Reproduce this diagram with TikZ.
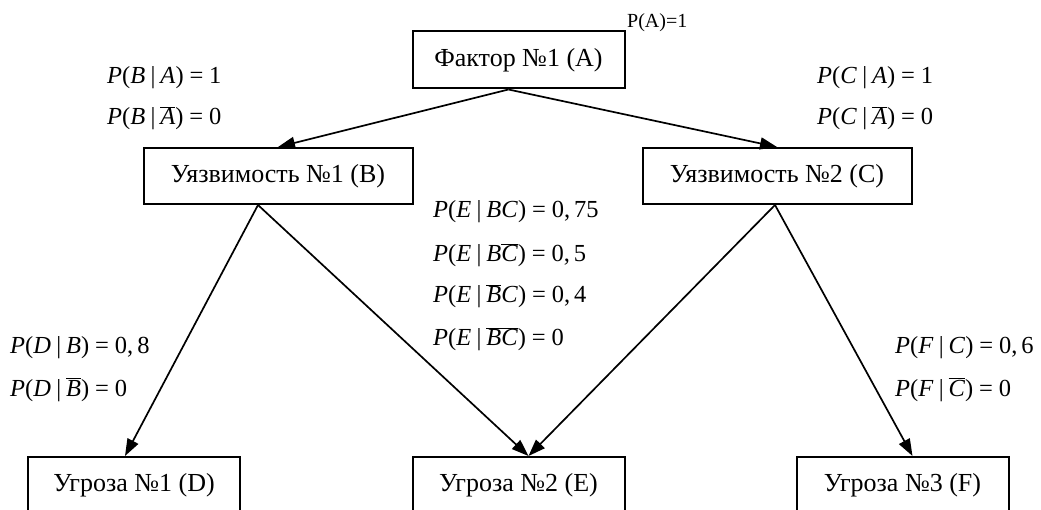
\documentclass[tikz,border=0pt]{standalone}
\usepackage{fontspec}
\setmainfont{Liberation Serif}
\usetikzlibrary{arrows.meta}
\newcommand{\iv}[1]{\textit{#1}}
\newcommand{\ob}[1]{$\overline{\hbox{\itshape #1}}$}
\newcommand{\cbar}{\hspace{0.22em}|\hspace{0.2em}}
\newcommand{\eqs}{\hspace{0.24em}=\hspace{0.24em}}
\begin{document}
\begin{tikzpicture}[x=1pt,y=-1pt,
  box/.style={draw, line width=2pt, minimum width=212pt, minimum height=57pt,
    inner sep=0pt, font=\fontsize{26}{30}\selectfont},
  widebox/.style={box, minimum width=269pt, minimum height=56pt},
  prob/.style={anchor=base west, inner sep=0pt, font=\fontsize{24.5}{28}\selectfont},
  link/.style={line width=1.7pt, -{Triangle[length=17pt,width=12pt]}}]
\useasboundingbox (0,0) rectangle (1041,510);
\clip (0,0) rectangle (1041,510);
\fill[white] (0,0) rectangle (1041,510);

% nodes of the tree
\node[box] (A) at (518.5,60) {Фактор №1 (А)};
\node[widebox] (B) at (278,176) {Уязвимость №1 (В)};
\node[widebox] (C) at (777,176) {Уязвимость №2 (С)};
\node[box, minimum height=56pt] (D) at (134,485) {Угроза №1 (D)};
\node[box, minimum height=56pt] (E) at (518.5,485) {Угроза №2 (Е)};
\node[box, minimum height=56pt] (F) at (902.5,485) {Угроза №3 (F)};

% links between them
\draw[link] ([xshift=-10pt]A.south) -- (B.north);
\draw[link] ([xshift=-10pt]A.south) -- (C.north);
\draw[link] ([xshift=-20pt]B.south) -- ([xshift=-9pt]D.north);
\draw[link] ([xshift=-20pt]B.south) -- ([xshift=10pt]E.north);
\draw[link] ([xshift=-2pt]C.south) -- ([xshift=10pt]E.north);
\draw[link] ([xshift=-2pt]C.south) -- ([xshift=10pt]F.north);

% probabilities
\node[anchor=base west, inner sep=0pt, font=\fontsize{20}{24}\selectfont] (pa) at (627,28) {P(A)=1};

\node[prob] (ba1) at (107,84) {\iv{P}(\iv{B}\cbar\iv{A})\eqs1};
\node[prob] (ba0) at (107,125) {\iv{P}(\iv{B}\cbar\ob{A})\eqs0};

\node[prob] (ca1) at (817,84) {\iv{P}(\iv{C}\cbar\iv{A})\eqs1};
\node[prob] (ca0) at (817,125) {\iv{P}(\iv{C}\cbar\ob{A})\eqs0};

\node[prob] (e1) at (433,218) {\iv{P}(\iv{E}\cbar\iv{BC})\eqs0,\,75};
\node[prob] (e2) at (433,262) {\iv{P}(\iv{E}\cbar\iv{B}\ob{C})\eqs0,\,5};
\node[prob] (e3) at (433,303) {\iv{P}(\iv{E}\cbar\ob{B}\iv{C})\eqs0,\,4};
\node[prob] (e4) at (433,346) {\iv{P}(\iv{E}\cbar\ob{B}\ob{C})\eqs0};

\node[prob] (db1) at (10,354) {\iv{P}(\iv{D}\cbar\iv{B})\eqs0,\,8};
\node[prob] (db0) at (10,396) {\iv{P}(\iv{D}\cbar\ob{B})\eqs0};

\node[prob] (fc1) at (895,354) {\iv{P}(\iv{F}\cbar\iv{C})\eqs0,\,6};
\node[prob] (fc0) at (895,396) {\iv{P}(\iv{F}\cbar\ob{C})\eqs0};
\end{tikzpicture}
\end{document}
